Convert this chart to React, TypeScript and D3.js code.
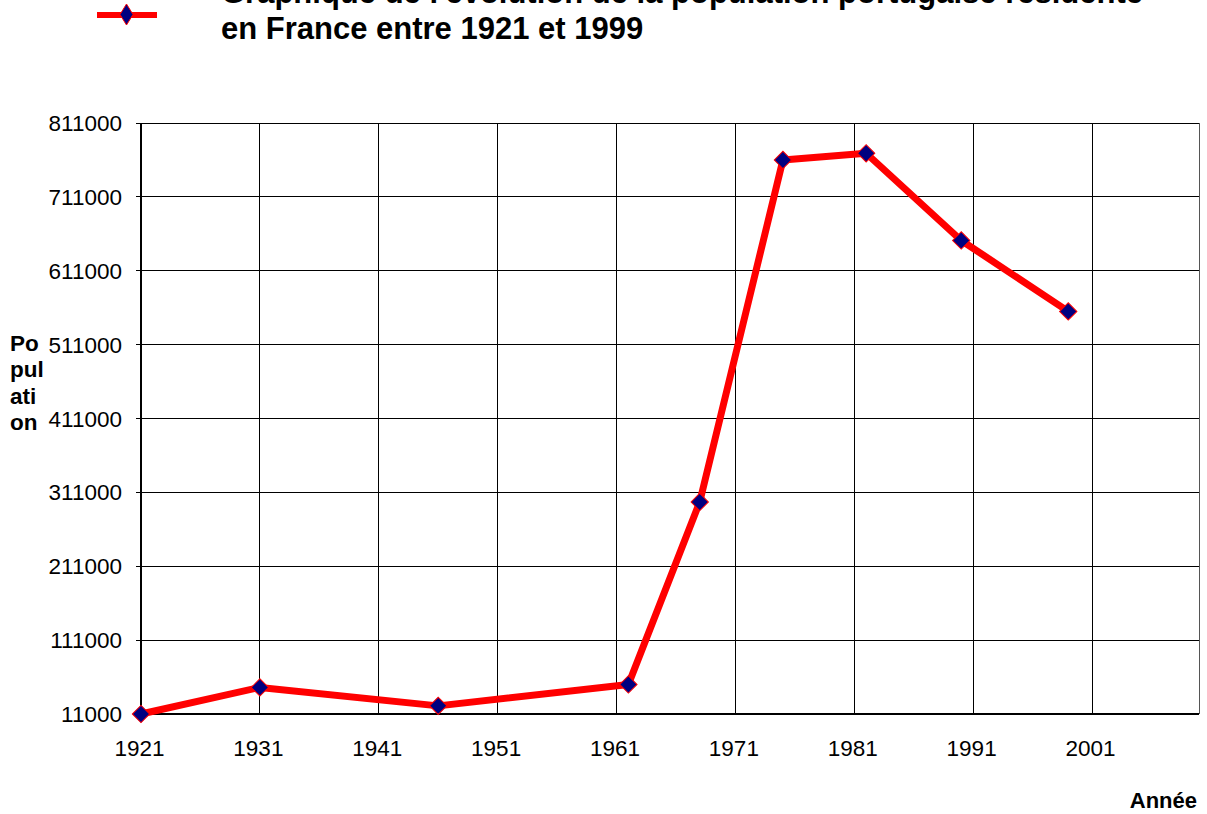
import React from 'react';
import { scaleLinear, line, symbol, symbolSquare } from 'd3';

// Population portugaise résidente en France
const years = [1921, 1931, 1946, 1962, 1968, 1975, 1982, 1990, 1999];
const population = [11000, 47000, 22000, 51000, 298000, 761000, 770000, 652000, 556000];

const yTicks = [11000, 111000, 211000, 311000, 411000, 511000, 611000, 711000, 811000];
const xTicks = [1921, 1931, 1941, 1951, 1961, 1971, 1981, 1991, 2001];
const X_MAX = 2010;

const titleLines = [
  "Graphique de l'évolution de la population portugaise résidente",
  'en France entre 1921 et 1999',
];
const yLabelParts = ['Po', 'pul', 'ati', 'on'];

const W = 1207;
const H = 814;
const M = { left: 141, right: 1199, top: 123, bottom: 714 };
const FONT = '"Liberation Sans", Arial, Helvetica, sans-serif';
const RED = '#ff0000';
const NAVY = '#000080';

export default function App() {
  const x = scaleLinear().domain([xTicks[0], X_MAX]).range([M.left, M.right]);
  const y = scaleLinear().domain([yTicks[0], yTicks[yTicks.length - 1]]).range([M.bottom, M.top]);

  const data = years.map((yr, i) => ({ yr, v: population[i] }));
  const linePath = line<{ yr: number; v: number }>()
    .x((d) => x(d.yr))
    .y((d) => y(d.v))(data);
  const marker = symbol().type(symbolSquare).size(150)();

  return (
    <svg
      width={W}
      height={H}
      style={{ position: 'absolute', left: 0, top: 0, background: '#fff' }}
      fontFamily={FONT}
    >
      {/* légende */}
      <line x1={97} x2={157} y1={15} y2={15} stroke={RED} strokeWidth={6} />
      <path d="M126.5,4 L133,14.5 L126.5,25 L120,14.5 Z" fill={NAVY} stroke={RED} strokeWidth={1} />

      {/* titre (première ligne coupée en haut, comme sur l'original) */}
      {titleLines.map((t, i) => (
        <text key={i} x={221} y={3 + i * 36} fontSize={31} fontWeight="bold" fill="#000">
          {t}
        </text>
      ))}

      {/* grille horizontale */}
      {yTicks.map((t) => (
        <line key={t} x1={M.left - 5} x2={M.right} y1={y(t)} y2={y(t)} stroke="#000" strokeWidth={1} shapeRendering="crispEdges" />
      ))}
      {/* grille verticale */}
      {xTicks.map((t) => (
        <line key={t} x1={x(t)} x2={x(t)} y1={M.top} y2={M.bottom} stroke="#000" strokeWidth={1} shapeRendering="crispEdges" />
      ))}
      <line x1={M.right} x2={M.right} y1={M.top} y2={M.bottom} stroke="#555" strokeWidth={1} shapeRendering="crispEdges" />
      <line x1={M.left} x2={M.left} y1={M.top} y2={M.bottom + 1} stroke="#000" strokeWidth={1.5} shapeRendering="crispEdges" />
      <line x1={M.left} x2={M.right} y1={M.bottom} y2={M.bottom} stroke="#000" strokeWidth={1.5} shapeRendering="crispEdges" />

      {/* étiquettes des axes */}
      {yTicks.map((t) => (
        <text key={t} x={122} y={y(t) + 8} fontSize={22.5} textAnchor="end" fill="#000">
          {t}
        </text>
      ))}
      {xTicks.map((t) => (
        <text key={t} x={x(t) - 1.5} y={756} fontSize={22.5} textAnchor="middle" fill="#000">
          {t}
        </text>
      ))}

      {yLabelParts.map((p, i) => (
        <text key={p} x={10} y={351 + i * 26.3} fontSize={22.5} fontWeight="bold" fill="#000">
          {p}
        </text>
      ))}
      <text x={1197} y={808} fontSize={22} fontWeight="bold" textAnchor="end" fill="#000">
        Année
      </text>

      {/* série */}
      <path d={linePath ?? ''} fill="none" stroke={RED} strokeWidth={7} strokeLinejoin="round" />
      {data.map((d) => (
        <path
          key={d.yr}
          d={marker}
          transform={`translate(${x(d.yr)},${y(d.v)}) rotate(45)`}
          fill={NAVY}
          stroke={RED}
          strokeWidth={1}
        />
      ))}
    </svg>
  );
}
